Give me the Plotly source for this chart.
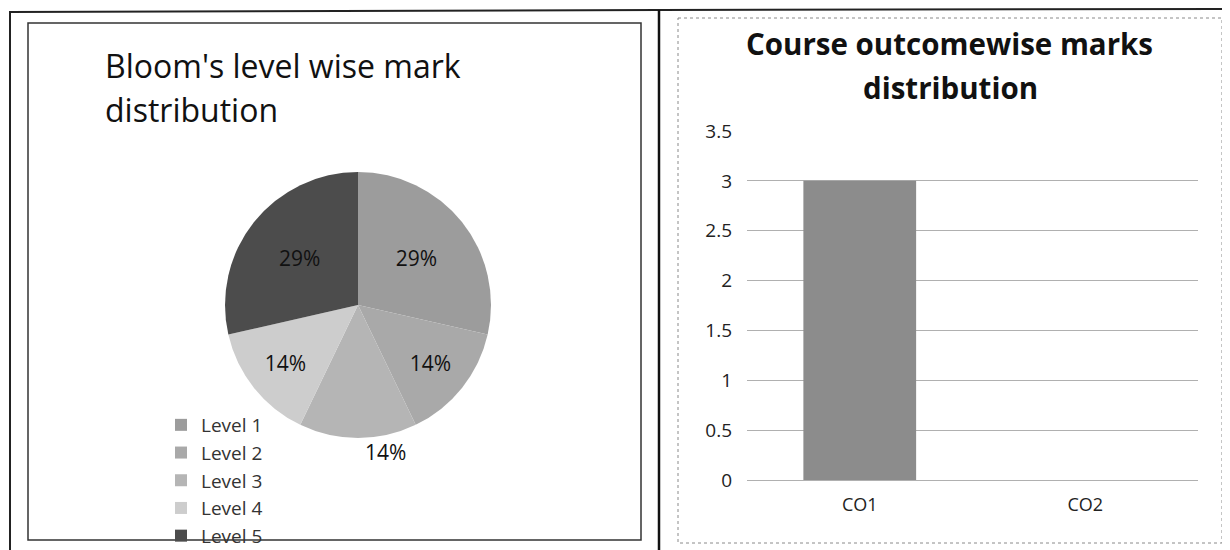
import plotly.graph_objects as go

# ---- data ----
pie_labels = ["Level 1", "Level 2", "Level 3", "Level 4", "Level 5"]
pie_values = [2, 1, 1, 1, 2]
pie_colors = ["#9c9c9c", "#a9a9a9", "#b5b5b5", "#cdcdcd", "#4c4c4c"]
pie_textpos = ["inside", "inside", "outside", "inside", "inside"]

bar_categories = ["CO1", "CO2"]
bar_values = [3, 0]
y_ticks = [0, 0.5, 1, 1.5, 2, 2.5, 3, 3.5]
y_tick_labels = ["0", "0.5", "1", "1.5", "2", "2.5", "3", "3.5"]

pie_title_lines = ["Bloom's level wise mark", "distribution"]
bar_title_lines = ["Course outcomewise marks", "distribution"]

# page body has an 8px margin; the figure fills the rest of the 1230x550 window
OFF = 8
W, H = 1230 - OFF, 550 - OFF
FONT = "Open Sans"


def px_x(x):
    return (x - OFF) / W


def px_y(y):
    return 1 - (y - OFF) / H


fig = go.Figure()

fig.add_trace(go.Pie(
    labels=pie_labels,
    values=pie_values,
    sort=False,
    direction="clockwise",
    rotation=0,
    marker=dict(colors=pie_colors, line=dict(width=0)),
    texttemplate="%{percent:.0%}",
    textposition=pie_textpos,
    insidetextorientation="horizontal",
    textfont=dict(family=FONT, size=21, color="#111111"),
    domain=dict(x=[px_x(225), px_x(491)], y=[px_y(480), px_y(130)]),
    showlegend=True,
))

fig.add_trace(go.Bar(
    x=bar_categories,
    y=bar_values,
    marker=dict(color="#8c8c8c", line=dict(width=0)),
    showlegend=False,
    xaxis="x",
    yaxis="y",
))

fig.update_layout(
    width=W,
    height=H,
    margin=dict(l=0, r=0, t=0, b=0, autoexpand=False),
    paper_bgcolor="white",
    plot_bgcolor="white",
    font=dict(family=FONT, color="#222222"),
    bargap=0.5,
    xaxis=dict(
        domain=[px_x(747), px_x(1198)],
        showgrid=False,
        showline=False,
        ticks="",
        tickfont=dict(family=FONT, size=18, color="#222222"),
        ticklabelstandoff=12,
        fixedrange=True,
    ),
    yaxis=dict(
        domain=[px_y(480), px_y(131)],
        range=[0, 3.5],
        tickvals=y_ticks,
        ticktext=y_tick_labels,
        showgrid=True,
        gridcolor="#b0b0b0",
        gridwidth=1,
        zeroline=True,
        zerolinecolor="#b0b0b0",
        zerolinewidth=1,
        showline=False,
        ticks="",
        tickfont=dict(family=FONT, size=19, color="#222222"),
        ticklabelstandoff=14,
        fixedrange=True,
    ),
    legend=dict(
        x=px_x(161),
        y=px_y(406),
        xanchor="left",
        yanchor="top",
        bgcolor="rgba(0,0,0,0)",
        font=dict(family=FONT, size=19, color="#333333"),
        traceorder="normal",
    ),
)

# chart titles
fig.add_annotation(text=pie_title_lines[0], x=px_x(103), y=px_y(65), xref="paper", yref="paper",
                   xanchor="left", yanchor="middle", showarrow=False,
                   font=dict(family=FONT, size=32, color="#111111"))
fig.add_annotation(text=pie_title_lines[1], x=px_x(103), y=px_y(109), xref="paper", yref="paper",
                   xanchor="left", yanchor="middle", showarrow=False,
                   font=dict(family=FONT, size=32, color="#111111"))
fig.add_annotation(text="<b>" + bar_title_lines[0] + "</b>", x=px_x(949), y=px_y(44), xref="paper", yref="paper",
                   xanchor="center", yanchor="middle", showarrow=False,
                   font=dict(family=FONT, size=29.5, color="#111111"))
fig.add_annotation(text="<b>" + bar_title_lines[1] + "</b>", x=px_x(950), y=px_y(87), xref="paper", yref="paper",
                   xanchor="center", yanchor="middle", showarrow=False,
                   font=dict(family=FONT, size=29.5, color="#111111"))

# frames
frames = [
    # outer page frame
    dict(type="line", x0=px_x(10), x1=px_x(10), y0=px_y(12), y1=px_y(550), line=dict(color="#222", width=2)),
    dict(type="line", x0=px_x(9), x1=px_x(659), y0=px_y(12), y1=px_y(10), line=dict(color="#222", width=2)),
    dict(type="line", x0=px_x(659), x1=px_x(1230), y0=px_y(10), y1=px_y(9), line=dict(color="#222", width=2)),
    dict(type="line", x0=px_x(659), x1=px_x(659), y0=px_y(10), y1=px_y(550), line=dict(color="#111", width=2.5)),
    # left chart box
    dict(type="rect", x0=px_x(28), x1=px_x(641), y0=px_y(23), y1=px_y(540), line=dict(color="#333", width=1.5)),
    # right chart box
    dict(type="rect", x0=px_x(678), x1=px_x(1222), y0=px_y(18), y1=px_y(543), line=dict(color="#8a8a8a", width=1, dash="dot")),
]
for s in frames:
    fig.add_shape(xref="paper", yref="paper", **s)

fig.write_html("out.html")
